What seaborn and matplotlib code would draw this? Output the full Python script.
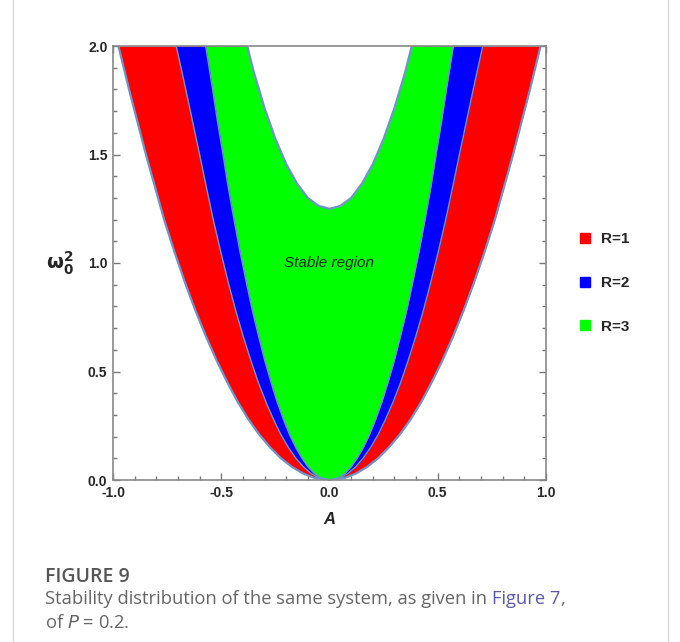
import numpy as np
import matplotlib
matplotlib.use("Agg")
import matplotlib.pyplot as plt
from matplotlib.lines import Line2D
from matplotlib.ticker import MultipleLocator, FormatStrFormatter
import seaborn as sns

# omega_0^2 levels and |A| of each boundary (the plot is symmetric in A)
omega_levels = [0, 0.01, 0.03, 0.06, 0.1, 0.15, 0.21, 0.28, 0.36, 0.45, 0.55,
                0.66, 0.78, 0.9, 1.05, 1.2, 1.35, 1.5, 1.65, 1.8, 2.0]
edge_r1 = [0, 0.071, 0.122, 0.173, 0.224, 0.274, 0.325, 0.375, 0.424, 0.472, 0.521,
           0.570, 0.619, 0.664, 0.716, 0.764, 0.806, 0.848, 0.887, 0.926, 0.975]
edge_r2 = [0, 0.049, 0.085, 0.120, 0.155, 0.190, 0.225, 0.259, 0.294, 0.329, 0.363,
           0.398, 0.433, 0.465, 0.502, 0.537, 0.569, 0.600, 0.632, 0.664, 0.708]
edge_r3 = [0, 0.040, 0.070, 0.099, 0.127, 0.156, 0.185, 0.213, 0.242, 0.270, 0.299,
           0.327, 0.356, 0.382, 0.413, 0.441, 0.468, 0.492, 0.517, 0.540, 0.572]

# inner (upper) boundary of the stable region
cap_A = [0, 0.05, 0.1, 0.15, 0.2, 0.25, 0.3, 0.35, 0.38]
cap_omega = [1.25, 1.263, 1.30, 1.366, 1.456, 1.572, 1.714, 1.881, 2.0]

labels = ["R=1", "R=2", "R=3"]
colors = ["#ff0000", "#0000ff", "#00ff00"]
edge_color = "#6f94c8"

sns.set_style("ticks")
plt.rcParams["font.family"] = ["Liberation Sans", "DejaVu Sans"]
plt.rcParams["mathtext.fontset"] = "dejavusans"

fig = plt.figure(figsize=(6.8, 6.42), dpi=100)
ax = fig.add_axes([113 / 680, 1 - 480 / 642, 433 / 680, 434 / 642])

w = np.array(omega_levels)
for edge, col in zip([edge_r1, edge_r2, edge_r3], colors):
    e = np.array(edge)
    ax.fill_betweenx(w, -e, e, color=col, lw=0)

ca = np.array(cap_A)
cw = np.array(cap_omega)
cap_x = np.concatenate([-ca[::-1], ca[1:]])
cap_y = np.concatenate([cw[::-1], cw[1:]])
ax.fill_between(cap_x, cap_y, 2.05, color="white", lw=0)

# boundary lines
for edge, lw in zip([edge_r1, edge_r2, edge_r3], [1.6, 1.0, 1.0]):
    e = np.array(edge)
    sns.lineplot(x=np.concatenate([-e[::-1], e[1:]]), y=np.concatenate([w[::-1], w[1:]]),
                 sort=False, estimator=None, color=edge_color, lw=lw, ax=ax)
sns.lineplot(x=cap_x, y=cap_y, sort=False, estimator=None, color=edge_color, lw=1.6, ax=ax)

ax.set_xlim(-1, 1)
ax.set_ylim(0, 2)
ax.xaxis.set_major_locator(MultipleLocator(0.5))
ax.xaxis.set_minor_locator(MultipleLocator(0.1))
ax.yaxis.set_major_locator(MultipleLocator(0.5))
ax.yaxis.set_minor_locator(MultipleLocator(0.1))
ax.xaxis.set_major_formatter(FormatStrFormatter("%.1f"))
ax.yaxis.set_major_formatter(FormatStrFormatter("%.1f"))
ax.tick_params(which="both", direction="in", top=True, right=True, color="#777777", width=1)
ax.tick_params(which="major", length=5, labelsize=10)
ax.tick_params(axis="x", which="major", pad=4)
ax.tick_params(axis="y", which="major", pad=4)
ax.tick_params(which="minor", length=3)
for lab in ax.get_xticklabels() + ax.get_yticklabels():
    lab.set_fontweight("bold")
for sp in ax.spines.values():
    sp.set_color("#888888")
    sp.set_linewidth(1.2)

ax.set_xlabel("A", fontsize=12, fontweight="bold", fontstyle="italic", labelpad=9)
ax.set_ylabel(r"$\mathbf{\omega_0^2}$", fontsize=14, rotation=0, va="center")
ax.yaxis.set_label_coords(-0.122, 0.50)
ax.text(0.0, 1.0, "Stable region", fontsize=11, fontstyle="italic", ha="center", va="center")

handles = [Line2D([], [], marker="s", ls="", markersize=7.5, markerfacecolor=c,
                  markeredgecolor=c) for c in colors]
fig.legend(handles, labels, loc="center left", bbox_to_anchor=(564 / 680, 1 - 283 / 642),
           frameon=False, labelspacing=1.95, handletextpad=0.5, handlelength=1.0,
           prop={"weight": "bold", "size": 11})

# card border and caption
fig.add_artist(Line2D([13 / 680, 13 / 680], [0, 1], color="#d8d8d8", lw=1))
fig.add_artist(Line2D([668 / 680, 668 / 680], [0, 1], color="#d8d8d8", lw=1))

cap_font = ["Open Sans", "DejaVu Sans"]
fig.text(45 / 680, 1 - 582 / 642, "FIGURE 9", fontsize=14, color="#555555",
         family=cap_font, fontweight="semibold", va="baseline")
t1 = fig.text(45 / 680, 1 - 604 / 642, "Stability distribution of the same system, as given in ",
              fontsize=13.2, color="#666666", family=cap_font, va="baseline")
fig.canvas.draw()
bb = t1.get_window_extent()
t2 = fig.text(bb.x1 / fig.bbox.width, 1 - 604 / 642, "Figure 7", fontsize=13.2, color="#5a5aa8",
              family=cap_font, va="baseline")
fig.canvas.draw()
bb2 = t2.get_window_extent()
fig.text(bb2.x1 / fig.bbox.width, 1 - 604 / 642, ",", fontsize=13.2, color="#666666",
         family=cap_font, va="baseline")
fig.text(45 / 680, 1 - 628 / 642, r"of $P$ = 0.2.", fontsize=13.2, color="#666666",
         family=cap_font, va="baseline")

plt.savefig("out.png", dpi=100)
plt.close()
